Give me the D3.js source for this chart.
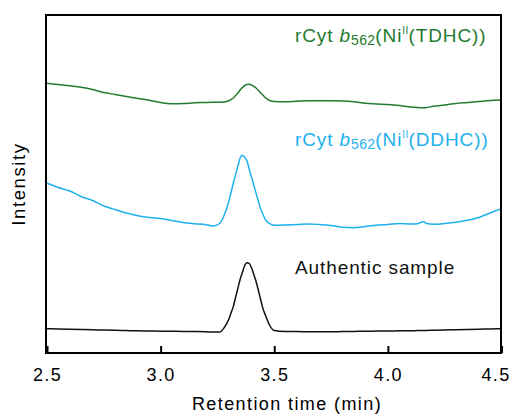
<!DOCTYPE html>
<html>
<head>
<meta charset="utf-8">
<script src="https://cdn.jsdelivr.net/npm/d3@7"></script>
<style>
  html, body { margin: 0; padding: 0; background: #fff; }
  svg text { font-family: "Liberation Sans", Arial, Helvetica, sans-serif; }
</style>
</head>
<body>
<svg id="chart" width="513" height="417"></svg>
<script>
// Retention time grid (min), shared by the three chromatograms
const retentionTime = [
  2.50, 2.55, 2.60, 2.65, 2.70, 2.75, 2.80, 2.85, 2.90, 2.95, 3.00, 3.05, 3.10, 3.15, 3.20,
  3.23, 3.26, 3.28,
  3.30, 3.31, 3.32, 3.33, 3.34, 3.35, 3.36, 3.37, 3.38, 3.39, 3.40, 3.41, 3.42, 3.43, 3.44, 3.45, 3.46,
  3.48, 3.50,
  3.55, 3.60, 3.65, 3.70, 3.75, 3.80, 3.85, 3.90, 3.95, 4.00, 4.05, 4.10,
  4.13, 4.15, 4.16, 4.17,
  4.20, 4.25, 4.30, 4.35, 4.40, 4.45, 4.50
];

// Detector intensity (arb. units, traces stacked with offsets)
const intensityTDHC = [
  269.7, 268.5, 267.3, 265.7, 263.5, 260.5, 258.5, 256.5, 254.5, 252.7, 250.5, 249.3, 249.5, 250.2, 250.5,
  250.7, 250.8, 251.0,
  252.2, 253.5, 255.0, 257.5, 260.0, 263.0, 265.5, 267.5, 268.5, 268.7, 268.0, 266.5, 265.0, 262.5, 260.0, 258.0, 255.5,
  252.5, 251.5,
  251.3, 251.8, 252.2, 252.3, 252.2, 252.0, 251.3, 249.7, 249.0, 248.5, 247.5, 246.0,
  245.5, 245.3, 245.2, 245.4,
  246.7, 248.0, 249.5, 250.5, 251.5, 252.5, 253.0
];

const intensityDDHC = [
  169.7, 165.5, 162.0, 156.5, 152.5, 147.0, 143.5, 140.0, 137.3, 135.5, 134.5, 132.5, 130.5, 129.3, 128.3,
  127.0, 129.5, 138.0,
  151.5, 160.8, 170.0, 178.6, 186.8, 195.0, 197.8, 195.5, 192.0, 183.8, 175.7, 167.7, 159.9, 151.8, 144.0, 139.0, 133.8,
  129.3, 127.7,
  128.0, 128.5, 129.0, 128.5, 127.5, 125.7, 125.3, 126.5, 127.7, 128.5, 129.5, 129.0,
  129.2, 131.0, 131.2, 129.5,
  128.8, 129.5, 130.7, 132.7, 135.5, 140.0, 144.5
];

const intensityAuthentic = [
  24.3, 24.0, 23.8, 23.5, 23.2, 23.0, 22.7, 22.4, 22.2, 22.0, 21.8, 21.7, 21.5, 21.4, 21.2,
  21.0, 21.0, 25.5,
  33.8, 40.2, 46.6, 55.9, 64.7, 73.8, 80.7, 87.5, 90.3, 89.5, 85.3, 78.5, 71.5, 62.8, 53.5, 44.6, 38.5,
  27.5, 22.5,
  21.5, 21.4, 21.3, 21.3, 21.3, 21.4, 21.6, 21.7, 21.9, 22.0, 22.2, 22.3,
  22.4, 22.5, 22.5, 22.6,
  22.7, 23.0, 23.3, 23.6, 23.8, 24.0, 24.3
];

const xTickValues = [2.5, 3.0, 3.5, 4.0, 4.5];
const xTickLabels = ["2.5", "3.0", "3.5", "4.0", "4.5"];
const xTitle = "Retention time (min)";
const yTitle = "Intensity";

const seriesColors = ["#237a30", "#1eb0ec", "#111111"];

// Label pieces: [text, kind]  kind: n = normal, i = italic, sub, sup
const labelTDHC = [["rCyt ", "n"], ["b", "i"], ["562", "sub"], ["(Ni", "n"], ["II", "sup"], ["(TDHC))", "n"]];
const labelDDHC = [["rCyt ", "n"], ["b", "i"], ["562", "sub"], ["(Ni", "n"], ["II", "sup"], ["(DDHC))", "n"]];
const labelAuthentic = [["Authentic sample", "n"]];

const svg = d3.select("#chart");
const frame = { left: 46, right: 501, top: 15, bottom: 353 };

const x = d3.scaleLinear().domain([2.5, 4.5]).range([47, 501.5]);
const y = d3.scaleLinear().domain([0, 338]).range([353, 15]);

const line = d3.line()
  .x((d) => x(d[0]))
  .y((d) => y(d[1]))
  .curve(d3.curveMonotoneX);

const series = [
  { values: intensityTDHC, color: seriesColors[0], label: labelTDHC, labelY: 41.5 },
  { values: intensityDDHC, color: seriesColors[1], label: labelDDHC, labelY: 145.5 },
  { values: intensityAuthentic, color: seriesColors[2], label: labelAuthentic, labelY: 274 }
];

const plot = svg.append("g");
plot.append("defs").append("clipPath").attr("id", "plotClip")
  .append("rect")
  .attr("x", frame.left).attr("y", frame.top)
  .attr("width", frame.right - frame.left).attr("height", frame.bottom - frame.top);

// Chromatogram traces
series.forEach((s) => {
  const pts = retentionTime.map((t, i) => [t, s.values[i]]);
  plot.append("path")
    .datum(pts)
    .attr("clip-path", "url(#plotClip)")
    .attr("fill", "none")
    .attr("stroke", s.color)
    .attr("stroke-width", 1.5)
    .attr("stroke-linejoin", "round")
    .attr("d", line);
});

// Trace labels with italic, subscript and superscript parts
series.forEach((s) => {
  const t = svg.append("text")
    .attr("x", 295)
    .attr("y", s.labelY)
    .attr("fill", s.color)
    .style("font-size", "19px")
    .style("letter-spacing", "0.9px");
  let shift = 0;
  s.label.forEach(([txt, kind]) => {
    const span = t.append("tspan").text(txt);
    let target = 0;
    if (kind === "sub") { target = 3; span.style("font-size", "14px").style("letter-spacing", "0.3px"); }
    else if (kind === "sup") { target = -8; span.style("font-size", "10px").style("letter-spacing", "0.3px"); }
    else if (kind === "i") { span.style("font-style", "italic"); }
    span.attr("dy", target - shift);
    shift = target;
  });
});

// Bottom axis: inward ticks, labels below
const xAxis = d3.axisBottom(x)
  .tickValues(xTickValues)
  .tickFormat((d, i) => xTickLabels[i])
  .tickSizeInner(-7)
  .tickSizeOuter(0)
  .tickPadding(15);

const gx = svg.append("g")
  .attr("transform", `translate(0,${frame.bottom})`)
  .call(xAxis);
gx.select(".domain").remove();
gx.selectAll(".tick line").attr("stroke", "#000").attr("stroke-width", 2);
gx.selectAll(".tick text")
  .attr("fill", "#000")
  .style("font-size", "18px")
  .style("letter-spacing", "1.4px")
  .style("font-family", '"Liberation Sans", Arial, sans-serif');
// keep the last label inside the canvas
gx.selectAll(".tick text").filter((d) => d === 4.5).attr("dx", -6);

// Frame around the plot
svg.append("rect")
  .attr("x", frame.left).attr("y", frame.top)
  .attr("width", frame.right - frame.left).attr("height", frame.bottom - frame.top)
  .attr("fill", "none")
  .attr("stroke", "#000")
  .attr("stroke-width", 2);

// Axis titles
svg.append("text")
  .attr("x", 287).attr("y", 409.5)
  .attr("text-anchor", "middle")
  .attr("fill", "#000")
  .style("font-size", "18px")
  .style("letter-spacing", "1.4px")
  .text(xTitle);

svg.append("text")
  .attr("transform", "translate(25,184) rotate(-90)")
  .attr("text-anchor", "middle")
  .attr("fill", "#000")
  .style("font-size", "18.5px")
  .style("letter-spacing", "1.6px")
  .text(yTitle);
</script>
</body>
</html>
